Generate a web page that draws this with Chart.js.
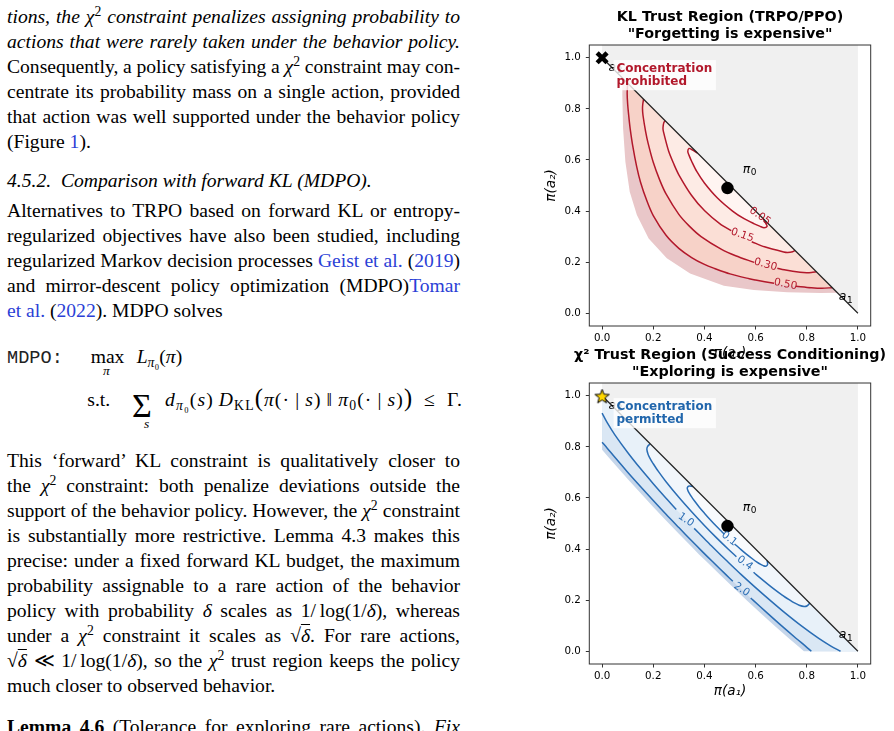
<!DOCTYPE html>
<html>
<head>
<meta charset="utf-8">
<script src="https://cdn.jsdelivr.net/npm/chart.js@4.4.1/dist/chart.umd.min.js"></script>
<style>
html, body { margin: 0; padding: 0; width: 894px; height: 731px; overflow: hidden; background: #fff; }
.ln, .p { position: absolute; font-family: "Liberation Serif", "Times New Roman", serif; font-size: 19.6px; line-height: 25px; color: #000; white-space: nowrap; }
.ln { left: 7px; width: 453px; }
.it { font-style: italic; }
.c { color: #2b3fd6; }
.mono { font-family: "Liberation Mono", "DejaVu Sans Mono", monospace; font-size: 18.6px; color: #222; }
.sm { font-size: 13.5px; font-style: italic; }
.big { font-size: 34px; }
.bp { font-size: 125%; line-height: 0; }
.ov { text-decoration: overline; }
sup { font-size: 70%; line-height: 0; vertical-align: 0.48em; font-style: normal; }
sub { font-size: 70%; line-height: 0; vertical-align: -0.3em; }
canvas { position: absolute; left: 530px; }
</style>
</head>
<body>

<div class="ln it j" style="top:3.6px">tions, the <i>χ</i><sup>2</sup> constraint penalizes assigning probability to</div>
<div class="ln it j" style="top:28.6px">actions that were rarely taken under the behavior policy.</div>
<div class="ln j" style="top:53.6px">Consequently, a policy satisfying a <i>χ</i><sup>2</sup> constraint may con-</div>
<div class="ln j" style="top:78.6px">centrate its probability mass on a single action, provided</div>
<div class="ln j" style="top:103.6px">that action was well supported under the behavior policy</div>
<div class="ln" style="top:128.6px">(Figure <span class="c">1</span>).</div>

<div class="ln it" style="top:168.2px">4.5.2.&nbsp;&nbsp;Comparison with forward KL (MDPO).</div>

<div class="ln j" style="top:197.6px">Alternatives to TRPO based on forward KL or entropy-</div>
<div class="ln j" style="top:222.6px">regularized objectives have also been studied, including</div>
<div class="ln j" style="top:247.6px">regularized Markov decision processes <span class="c">Geist et al.</span> (<span class="c">2019</span>)</div>
<div class="ln j" style="top:272.6px">and mirror-descent policy optimization (MDPO)<span class="c">Tomar</span></div>
<div class="ln" style="top:297.6px"><span class="c">et al.</span> (<span class="c">2022</span>). MDPO solves</div>

<div class="p mono" style="left:7px;top:345.9px">MDPO:</div>
<div class="p" style="left:90.7px;top:344.2px">max</div>
<div class="p sm" style="left:103px;top:358.4px">π</div>
<div class="p" style="left:136.7px;top:344.2px"><i>L</i><sub><i>π</i>₀</sub>(<i>π</i>)</div>
<div class="p" style="left:87.3px;top:386.9px">s.t.</div>
<div class="p big" style="left:132px;top:393px">Σ</div>
<div class="p sm" style="left:144px;top:410.9px">s</div>
<div class="p fit" data-w="298" style="left:165px;top:386.9px"><i>d</i><sub><i>π</i>₀</sub>(<i>s</i>)&thinsp;<i>D</i><sub>KL</sub><span class="bp">(</span><i>π</i>(·&thinsp;|&thinsp;<i>s</i>)&thinsp;‖&thinsp;<i>π</i><sub>0</sub>(·&thinsp;|&thinsp;<i>s</i>)<span class="bp">)</span>&ensp;≤&ensp;Γ.</div>

<div class="ln j" style="top:447.6px">This ‘forward’ KL constraint is qualitatively closer to</div>
<div class="ln j" style="top:472.6px">the <i>χ</i><sup>2</sup> constraint: both penalize deviations outside the</div>
<div class="ln j" style="top:497.6px">support of the behavior policy. However, the <i>χ</i><sup>2</sup> constraint</div>
<div class="ln j" style="top:522.6px">is substantially more restrictive. Lemma 4.3 makes this</div>
<div class="ln j" style="top:547.6px">precise: under a fixed forward KL budget, the maximum</div>
<div class="ln j" style="top:572.6px">probability assignable to a rare action of the behavior</div>
<div class="ln j" style="top:597.6px">policy with probability <i>δ</i> scales as 1/&thinsp;log(1/<i>δ</i>), whereas</div>
<div class="ln j" style="top:622.6px">under a <i>χ</i><sup>2</sup> constraint it scales as √<span class="ov"><i>δ</i></span>. For rare actions,</div>
<div class="ln j" style="top:647.6px">√<span class="ov"><i>δ</i></span> ≪ 1/&thinsp;log(1/<i>δ</i>), so the <i>χ</i><sup>2</sup> trust region keeps the policy</div>
<div class="ln" style="top:672.6px">much closer to observed behavior.</div>
<div class="ln j" style="top:713.9px"><b>Lemma 4.6</b> (Tolerance for exploring rare actions). <i>Fix</i></div>

<canvas id="klChart" width="400" height="366" style="top:0px"></canvas>
<canvas id="chiChart" width="400" height="366" style="top:338px"></canvas>

<script>
// stretch each justified line to the column width
function naturalWidth(el) {
    const r = document.createRange();
    r.selectNodeContents(el);
    return r.getBoundingClientRect().width;
}
document.querySelectorAll('.j').forEach(el => {
    const n = (el.textContent.match(/[ \u00a0]/g) || []).length;
    if (n) el.style.wordSpacing = ((453 - naturalWidth(el)) / n) + 'px';
});
document.querySelectorAll('.fit').forEach(el => {
    const n = el.textContent.length;
    el.style.letterSpacing = ((+el.dataset.w - naturalWidth(el)) / n) + 'px';
});

// ---- data ----
const tickValues = [0, 0.2, 0.4, 0.6, 0.8, 1.0];
const pi0 = [[0.49, 0.49]];
const corner = [[0, 1]];
const simplexEdge = [[0, 1], [1, 0]];
const infeasible = [[0, 1.05], [1, 1.05], [1, 0], [0, 1]];
const simplexCorners = [[1, 0], [0, 1]];

// KL trust region contours
const klLevels = ['0.05', '0.15', '0.30', '0.50'];
const kl005 = [[0.372, 0.628], [0.350, 0.641], [0.340, 0.645], [0.335, 0.633], [0.340, 0.618], [0.350, 0.595], [0.370, 0.555], [0.400, 0.510], [0.451, 0.451], [0.510, 0.400], [0.555, 0.370], [0.595, 0.350], [0.618, 0.340], [0.633, 0.335], [0.645, 0.340], [0.641, 0.350], [0.628, 0.372]];
const kl015 = [[0.246, 0.754], [0.241, 0.745], [0.238, 0.725], [0.240, 0.710], [0.260, 0.635], [0.280, 0.585], [0.300, 0.542], [0.350, 0.461], [0.401, 0.401], [0.461, 0.350], [0.505, 0.323], [0.585, 0.280], [0.635, 0.260], [0.710, 0.240], [0.725, 0.238], [0.745, 0.241], [0.754, 0.246]];
const kl030 = [[0.162, 0.838], [0.159, 0.818], [0.158, 0.800], [0.160, 0.774], [0.170, 0.712], [0.180, 0.665], [0.200, 0.591], [0.225, 0.522], [0.250, 0.467], [0.300, 0.387], [0.341, 0.341], [0.387, 0.300], [0.467, 0.250], [0.522, 0.225], [0.595, 0.199], [0.685, 0.176], [0.712, 0.170], [0.774, 0.160], [0.800, 0.158], [0.818, 0.159], [0.838, 0.162]];
const kl050 = [[0.100, 0.900], [0.098, 0.860], [0.100, 0.818], [0.105, 0.765], [0.110, 0.721], [0.120, 0.654], [0.135, 0.575], [0.150, 0.514], [0.175, 0.440], [0.200, 0.382], [0.250, 0.305], [0.300, 0.254], [0.350, 0.218], [0.400, 0.191], [0.440, 0.175], [0.500, 0.154], [0.575, 0.135], [0.600, 0.130], [0.672, 0.117], [0.758, 0.106], [0.818, 0.100], [0.860, 0.098], [0.900, 0.100]];
const klEdge = [[0.080, 0.920], [0.079, 0.854], [0.082, 0.724], [0.091, 0.593], [0.108, 0.476], [0.136, 0.385], [0.182, 0.293], [0.253, 0.215], [0.344, 0.156], [0.476, 0.108], [0.593, 0.091], [0.724, 0.082], [0.854, 0.079], [0.920, 0.080]];
const klGaps = [null, 11, 15, 19];

// chi-square trust region contours
const chiLevels = ['0.1', '0.4', '1.0', '2.0'];
const chi010 = [[0.355, 0.645], [0.340, 0.647], [0.333, 0.640], [0.335, 0.630], [0.340, 0.620], [0.350, 0.604], [0.360, 0.590], [0.380, 0.564], [0.400, 0.5405], [0.420, 0.518], [0.450, 0.486], [0.468, 0.468], [0.478, 0.458], [0.518, 0.420], [0.5405, 0.400], [0.564, 0.380], [0.590, 0.360], [0.604, 0.350], [0.620, 0.340], [0.630, 0.335], [0.640, 0.333], [0.647, 0.340], [0.645, 0.355]];
const chi040 = [[0.188, 0.812], [0.178, 0.802], [0.175, 0.790], [0.180, 0.7705], [0.190, 0.750], [0.200, 0.734], [0.220, 0.704], [0.250, 0.6635], [0.300, 0.6025], [0.350, 0.546], [0.400, 0.4925], [0.4457, 0.4457], [0.4925, 0.400], [0.525, 0.370], [0.592, 0.309], [0.6025, 0.300], [0.6635, 0.250], [0.704, 0.220], [0.734, 0.200], [0.750, 0.190], [0.7705, 0.180], [0.790, 0.175], [0.802, 0.178], [0.812, 0.188]];
const chi100 = [[0, 0.932], [0.02, 0.8945], [0.05, 0.847], [0.1, 0.778], [0.15, 0.715], [0.2, 0.656], [0.25, 0.599], [0.29, 0.555], [0.36, 0.481], [0.4, 0.44], [0.42, 0.42], [0.44, 0.4], [0.4915, 0.35], [0.544, 0.3], [0.599, 0.25], [0.656, 0.2], [0.715, 0.15], [0.778, 0.1], [0.847, 0.05], [0.8945, 0.02], [0.932, 0]];
const chi200 = [[0, 0.818], [0.02, 0.795], [0.05, 0.759], [0.1, 0.701], [0.15, 0.645], [0.2, 0.59], [0.25, 0.536], [0.3, 0.484], [0.35, 0.4325], [0.391, 0.391], [0.4325, 0.35], [0.484, 0.3], [0.511, 0.274], [0.581, 0.208], [0.59, 0.2], [0.645, 0.15], [0.701, 0.1], [0.759, 0.05], [0.795, 0.02], [0.818, 0]];
const chiEdge = [[0, 0.789], [0.02, 0.7655], [0.05, 0.7307], [0.1, 0.674], [0.15, 0.619], [0.2, 0.565], [0.25, 0.512], [0.3, 0.46], [0.35, 0.409], [0.379, 0.379], [0.409, 0.35], [0.46, 0.3], [0.512, 0.25], [0.565, 0.2], [0.619, 0.15], [0.674, 0.1], [0.7307, 0.05], [0.7655, 0.02], [0.789, 0]];
const chiGaps = [13, 14, 8, 13];

// ---- helpers ----
const xy = rows => rows.map(r => ({x: r[0], y: r[1]}));
function withGap(rows, at) {
    const p = xy(rows);
    if (at != null) p.splice(at, 0, {x: null, y: null});
    return p;
}
const line = (data, color) => ({data, showLine: true, borderColor: color, borderWidth: 1.5, pointRadius: 0, tension: 0.3, fill: false, spanGaps: false, order: 2});
const area = (data, color, order) => ({data, showLine: true, borderWidth: 0, borderColor: 'rgba(0,0,0,0)', backgroundColor: color, pointRadius: 0, tension: 0, fill: 'shape', order});
const edgeLine = () => ({data: xy(simplexEdge), showLine: true, borderColor: '#222', borderWidth: 1.2, pointRadius: 0, order: 1});
const grayArea = () => area(xy(infeasible), '#f0f0f0', 20);
const dot = () => ({data: xy(pi0), pointRadius: 6.2, pointBackgroundColor: '#000', pointBorderWidth: 0, showLine: false, order: 0});

function starImage(r) {
    const s = Math.ceil(r * 2 + 4);
    const c = document.createElement('canvas');
    c.width = c.height = s;
    const g = c.getContext('2d');
    g.translate(s / 2, s / 2 + 1);
    g.beginPath();
    for (let i = 0; i < 10; i++) {
        const rr = i % 2 ? r * 0.42 : r;
        const a = -Math.PI / 2 + i * Math.PI / 5;
        g.lineTo(rr * Math.cos(a), rr * Math.sin(a));
    }
    g.closePath();
    g.fillStyle = '#ffd700';
    g.fill();
    g.strokeStyle = '#000';
    g.lineWidth = 1;
    g.stroke();
    return c;
}

function mathLabel(ctx, base, sub, x, y) {
    ctx.font = 'italic 12.5px "DejaVu Sans"';
    ctx.fillText(base, x, y);
    const w = ctx.measureText(base).width;
    ctx.font = '9px "DejaVu Sans"';
    ctx.fillText(sub, x + w + 0.5, y + 2.5);
}

// contour labels, vertex names, note box and frame
const annotate = {
    id: 'annotate',
    afterDatasetsDraw(chart, args, o) {
        const {ctx, chartArea: a, scales: {x, y}} = chart;
        const px = v => x.getPixelForValue(v);
        const py = v => y.getPixelForValue(v);
        ctx.save();
        ctx.fillStyle = o.color;
        ctx.font = '10.5px "DejaVu Sans"';
        ctx.textAlign = 'center';
        ctx.textBaseline = 'middle';
        o.levels.forEach((t, i) => {
            const [lx, ly, rot] = o.labelAt[i];
            ctx.save();
            ctx.translate(px(lx), py(ly));
            ctx.rotate(rot * Math.PI / 180);
            ctx.fillText(t, 0, 0);
            ctx.restore();
        });
        ctx.fillStyle = '#000';
        ctx.textAlign = 'left';
        ctx.textBaseline = 'alphabetic';
        mathLabel(ctx, 'π', '0', px(0.55), py(0.55));
        mathLabel(ctx, 'a', '1', px(0.925), py(0.05));
        mathLabel(ctx, 'a', '2', px(0.025), py(0.95));
        ctx.fillStyle = 'rgba(255,255,255,0.8)';
        ctx.fillRect(px(0.045), py(0.991), px(0.445) - px(0.045), py(0.873) - py(0.991));
        ctx.fillStyle = o.noteColor;
        ctx.font = 'bold 12px "DejaVu Sans"';
        o.note.forEach((t, i) => ctx.fillText(t, px(0.056), py(0.944) + i * 12.8));
        ctx.strokeStyle = '#333';
        ctx.lineWidth = 1;
        ctx.strokeRect(a.left, a.top, a.right - a.left, a.bottom - a.top);
        ctx.restore();
    }
};

function axis(title, isY) {
    return {
        type: 'linear', min: -0.05, max: 1.05,
        afterBuildTicks: s => { s.ticks = tickValues.map(v => ({value: v})); },
        ticks: {callback: v => v.toFixed(1), font: {family: 'DejaVu Sans', size: 10.3}, color: '#000', padding: isY ? 5 : 3, maxRotation: 0, autoSkip: false},
        grid: {drawOnChartArea: false, drawTicks: true, tickLength: 3.5, color: '#000', lineWidth: 0.8},
        border: {display: false},
        title: {display: true, text: title, color: '#000', font: {family: 'DejaVu Sans', size: 13.5, style: 'italic', lineHeight: 1.2},
                padding: isY ? {top: 13.6, bottom: 0} : {top: 0, bottom: 4.4}},
        afterFit: s => { if (isY) s.width = 59.3; else s.height = 40; }
    };
}

function makeChart(id, titleLines, datasets, notes) {
    return new Chart(document.getElementById(id), {
        type: 'scatter',
        data: {datasets},
        plugins: [annotate],
        options: {
            responsive: false, animation: false, events: [], devicePixelRatio: 1,
            layout: {padding: 0},
            scales: {
                x: axis('π(a₁)', false),
                y: axis('π(a₂)', true),
                yr: {type: 'linear', position: 'right', ticks: {display: false}, grid: {display: false}, border: {display: false},
                     afterFit: s => { s.width = 59.3; }}
            },
            plugins: {
                legend: {display: false},
                tooltip: {enabled: false},
                title: {display: true, text: titleLines, color: '#000',
                        font: {family: 'DejaVu Sans', size: 14.3, weight: 'bold', lineHeight: 1.161},
                        padding: {top: 9.1, bottom: 2.7}},
                annotate: notes
            }
        }
    });
}

// ---- KL chart ----
const RED = '#b2182b';
const klLines = [kl005, kl015, kl030, kl050];
makeChart('klChart', ['KL Trust Region (TRPO/PPO)', '"Forgetting is expensive"'], [
    dot(),
    {data: xy(corner), pointStyle: 'crossRot', pointRadius: 7, pointBorderWidth: 4.5, pointBorderColor: '#000', showLine: false, order: 0},
    edgeLine(),
    ...klLines.map((c, i) => line(withGap(c, klGaps[i]), RED)),
    area(xy(kl005), '#fff5f2', 3),
    area(xy(kl015), '#fdebe5', 4),
    area(xy(kl030), '#fbdfd6', 5),
    area(xy(kl050), '#f7d2c8', 6),
    area(xy(klEdge), '#e9c7c9', 7),
    grayArea()
], {color: RED, noteColor: RED, levels: klLevels, note: ['Concentration', 'prohibited'],
    labelAt: [[0.617, 0.380, 35], [0.548, 0.305, 19], [0.639, 0.190, 15], [0.717, 0.113, 11]]});

// ---- chi-square chart ----
const BLUE = '#2a6db4';
const chiLines = [chi010, chi040, chi100, chi200];
makeChart('chiChart', ['χ² Trust Region (Success Conditioning)', '"Exploring is expensive"'], [
    dot(),
    {data: xy(corner), pointStyle: starImage(7.5), pointRadius: 7, showLine: false, order: 0},
    edgeLine(),
    ...chiLines.map((c, i) => line(withGap(c, chiGaps[i]), BLUE)),
    area(xy(chi010), '#f8fafd', 3),
    area(xy(chi040), '#f1f6fb', 4),
    area(xy(chi100.concat(simplexCorners)), '#e8f1f9', 5),
    area(xy(chi200.concat(simplexCorners)), '#dae7f4', 6),
    area(xy(chiEdge.concat(simplexCorners)), '#c6d6ea', 7),
    grayArea()
], {color: BLUE, noteColor: '#2166ac', levels: chiLevels, note: ['Concentration', 'permitted'],
    labelAt: [[0.497, 0.440, 38], [0.558, 0.345, 37], [0.328, 0.514, 35], [0.546, 0.241, 34]]});
</script>
</body>
</html>
